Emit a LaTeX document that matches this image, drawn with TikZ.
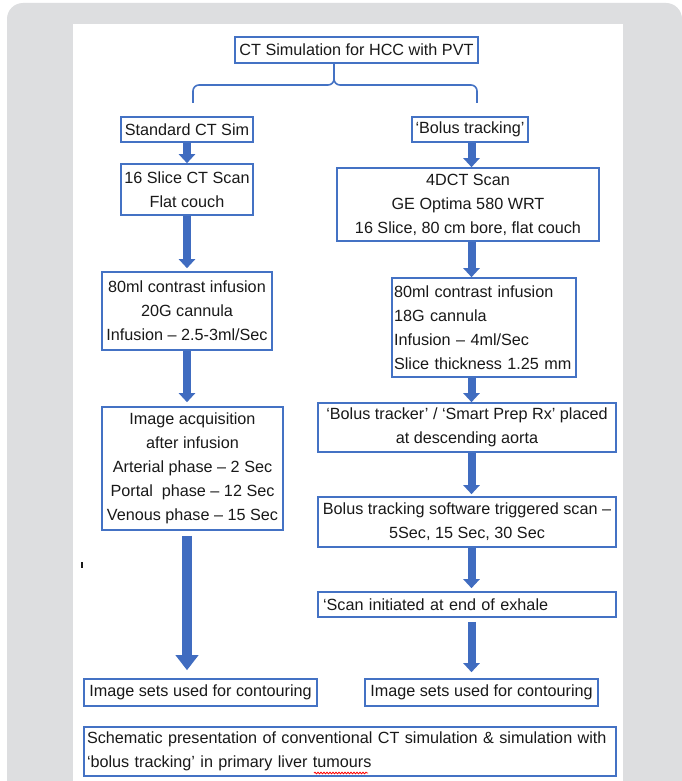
\documentclass[tikz,border=0pt]{standalone}
\usepackage{fontspec}
\setmainfont{Liberation Sans}
\usetikzlibrary{arrows.meta,decorations.pathmorphing}
\definecolor{boxblue}{RGB}{68,114,196}
\definecolor{arrowblue}{RGB}{64,108,192}
\definecolor{bggray}{RGB}{221,222,224}
\definecolor{txt}{RGB}{25,25,25}
\begin{document}
\begin{tikzpicture}[x=1pt,y=-1pt,
  box/.style={draw=boxblue,line width=1.6pt,inner sep=0pt,align=center,text=txt,
    font=\fontsize{16.2}{24}\selectfont},
  lbox/.style={box,align=left},
  arr/.style={draw=arrowblue,line width=8pt,-{Triangle[width=16pt,length=9pt]}},
  bigarr/.style={draw=arrowblue,line width=10pt,-{Triangle[width=22pt,length=15pt]}},
  bracestyle/.style={draw=boxblue,line width=1.6pt,rounded corners=6pt}]
\useasboundingbox (0,0) rectangle (682,781);
\fill[white] (0,0) rectangle (682,781);
\fill[bggray,rounded corners=16pt] (7,3) rectangle (682,820);
\fill[white] (73,24) rectangle (623,781);

% nodes
\node[box,minimum width=243pt,minimum height=26pt] (title) at (356.5,50) {CT Simulation for HCC with PVT};

\node[box,minimum width=132pt,minimum height=25pt] (std) at (187,129.5) {Standard CT Sim};
\node[box,minimum width=132pt,minimum height=51pt] (slice) at (187,189.5) {16 Slice CT Scan\\Flat couch};
\node[box,minimum width=170pt,minimum height=78pt] (inf1) at (187,311) {80ml contrast infusion\\20G cannula\\Infusion – 2.5-3ml/Sec};
\node[box,minimum width=181pt,minimum height=123pt] (acq) at (192.5,468.5) {Image acquisition\\after infusion\\Arterial phase – 2 Sec\\Portal~ phase – 12 Sec\\Venous phase – 15 Sec};
\node[box,minimum width=233pt,minimum height=27pt] (img1) at (200.5,692.5) {Image sets used for contouring};

\node[box,minimum width=116pt,minimum height=25pt] (bolus) at (470,129.5) {‘Bolus tracking’};
\node[box,minimum width=262pt,minimum height=73pt] (dct) at (468,204.5) {4DCT Scan\\GE Optima 580 WRT\\16 Slice, 80 cm bore, flat couch};
\node[lbox,text width=180pt,inner xsep=2pt,minimum height=99pt] (inf2) at (484,327.5) {80ml contrast infusion\\18G cannula\\Infusion – 4ml/Sec\\Slice thickness 1.25 mm};
\node[box,minimum width=298pt,minimum height=49pt] (tracker) at (467,427.5) {‘Bolus tracker’ / ‘Smart Prep Rx’ placed\\at descending aorta};
\node[box,minimum width=298pt,minimum height=50pt] (soft) at (467,522) {Bolus tracking software triggered scan –\\5Sec, 15 Sec, 30 Sec};
\node[lbox,text width=288pt,inner xsep=5pt,minimum height=25pt] (scan) at (467,604.5) {‘Scan initiated at end of exhale};
\node[box,minimum width=233pt,minimum height=27pt] (img2) at (481.5,692.5) {Image sets used for contouring};

\node[lbox,text width=526pt,inner xsep=3pt,minimum height=49pt] (caption) at (350,751.5) {Schematic presentation of conventional CT simulation \& simulation with\\‘bolus tracking’ in primary liver tumours};

\node[fill=txt,minimum width=2pt,minimum height=6pt,inner sep=0pt] (mark) at (82,565) {};

% brace
\coordinate (bl) at (193,103);
\coordinate (br) at (477,103);
\coordinate (bm) at (334,85);
\draw[bracestyle] (bl) |- (bm) -- (title.south -| bm);
\draw[bracestyle] (br) |- (bm) -- (title.south -| bm);

% arrows
\coordinate (lx) at (187,0);
\coordinate (rx) at (471.5,0);
\draw[arr] (std.south -| lx) -- (slice.north -| lx);
\draw[arr,shorten >=3pt] (slice.south -| lx) -- (inf1.north -| lx);
\draw[arr,shorten >=4pt] (inf1.south -| lx) -- (acq.north -| lx);
\draw[bigarr,shorten <=5pt,shorten >=8pt] (acq.south -| lx) -- (img1.north -| lx);

\draw[arr] (bolus.south -| rx) -- (dct.north -| rx);
\draw[arr] (dct.south -| rx) -- (inf2.north -| rx);
\draw[arr] (inf2.south -| rx) -- (tracker.north -| rx);
\draw[arr,shorten >=2pt] (tracker.south -| rx) -- (soft.north -| rx);
\draw[arr,shorten >=3pt] (soft.south -| rx) -- (scan.north -| rx);
\draw[arr,shorten <=4pt,shorten >=6pt] (scan.south -| rx) -- (img2.north -| rx);

% spell-check squiggle
\draw[red,line width=0.8pt,decorate,decoration={snake,amplitude=0.8pt,segment length=3pt}] (314,773) -- (368,773);
\end{tikzpicture}
\end{document}
